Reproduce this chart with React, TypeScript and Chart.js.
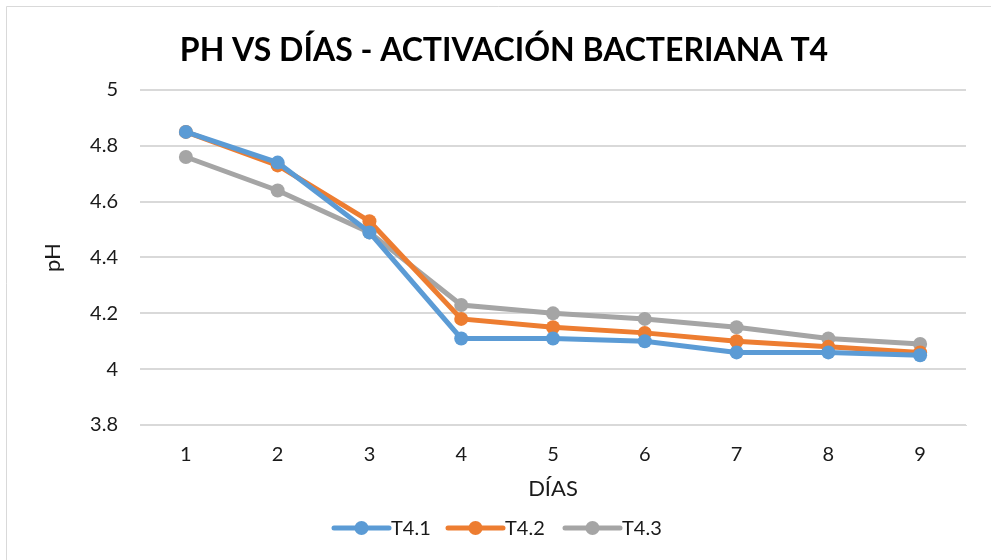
import React, { useEffect, useRef } from "react";
import { Chart, registerables } from "chart.js";

Chart.register(...registerables);

const days = ["1", "2", "3", "4", "5", "6", "7", "8", "9"];
const t41 = [4.85, 4.74, 4.49, 4.11, 4.11, 4.10, 4.06, 4.06, 4.05];
const t42 = [4.85, 4.73, 4.53, 4.18, 4.15, 4.13, 4.10, 4.08, 4.06];
const t43 = [4.76, 4.64, 4.49, 4.23, 4.20, 4.18, 4.15, 4.11, 4.09];
const seriesNames = ["T4.1", "T4.2", "T4.3"];
const seriesColors = ["#5B9BD5", "#ED7D31", "#A5A5A5"];
const titleText = "PH VS DÍAS - ACTIVACIÓN BACTERIANA T4";
const FONT = "Lato, 'Noto Sans', sans-serif";
const TEXT = "#1a1a1a";

const decor = {
  id: "decor",
  beforeDraw(chart: any) {
    const ctx = chart.ctx;
    ctx.save();
    ctx.fillStyle = "#ffffff";
    ctx.fillRect(0, 0, chart.width, chart.height);
    ctx.strokeStyle = "#d9d9d9";
    ctx.lineWidth = 1;
    ctx.beginPath();
    ctx.moveTo(6.5, chart.height);
    ctx.lineTo(6.5, 6.5);
    ctx.lineTo(chart.width, 6.5);
    ctx.stroke();
    ctx.restore();
  },
  afterDraw(chart: any) {
    const ctx = chart.ctx;
    ctx.save();
    // title
    ctx.fillStyle = "#000000";
    ctx.font = `bold 32px ${FONT}`;
    ctx.textAlign = "center";
    ctx.textBaseline = "alphabetic";
    ctx.fillText(titleText, 504, 61);
    // legend
    ctx.font = `20px ${FONT}`;
    ctx.textAlign = "left";
    ctx.textBaseline = "middle";
    const y = 528;
    const starts = [334, 448, 565];
    chart.data.datasets.forEach((ds: any, i: number) => {
      const x = starts[i];
      ctx.strokeStyle = ds.borderColor;
      ctx.lineWidth = 5;
      ctx.lineCap = "round";
      ctx.beginPath();
      ctx.moveTo(x, y);
      ctx.lineTo(x + 55, y);
      ctx.stroke();
      ctx.fillStyle = ds.borderColor;
      ctx.beginPath();
      ctx.arc(x + 27.5, y, 7, 0, Math.PI * 2);
      ctx.fill();
      ctx.fillStyle = TEXT;
      ctx.fillText(ds.label, x + 57, y + 1);
    });
    ctx.restore();
  },
};

export default function App() {
  const ref = useRef<HTMLCanvasElement | null>(null);
  useEffect(() => {
    if (!ref.current) return;
    const mk = (label: string, data: number[], color: string) => ({
      label,
      data,
      borderColor: color,
      backgroundColor: color,
      borderWidth: 5,
      pointRadius: 7,
      pointHoverRadius: 7,
      pointBackgroundColor: color,
      pointBorderColor: color,
      pointBorderWidth: 0,
      tension: 0,
    });
    const chart = new Chart(ref.current, {
      type: "line",
      data: {
        labels: days,
        datasets: [
          mk(seriesNames[0], t41, seriesColors[0]),
          mk(seriesNames[1], t42, seriesColors[1]),
          mk(seriesNames[2], t43, seriesColors[2]),
        ],
      },
      plugins: [decor],
      options: {
        animation: false,
        responsive: false,
        devicePixelRatio: 1,
        layout: { padding: { top: 90, left: 20, right: 25, bottom: 50 } },
        plugins: {
          legend: { display: false },
          title: { display: false },
          tooltip: { enabled: false },
        },
        scales: {
          x: {
            type: "category",
            offset: true,
            grid: { display: false, drawTicks: false },
            border: { display: true, color: "#d9d9d9", width: 1 },
            ticks: { color: TEXT, font: { family: FONT, size: 20 }, padding: 18 },
            title: {
              display: true,
              text: "DÍAS",
              color: TEXT,
              font: { family: FONT, size: 22 },
              padding: { top: 4, bottom: 8 },
            },
            afterFit(scale: any) {
              scale.height = 85;
            },
          },
          y: {
            min: 3.8,
            max: 5,
            ticks: {
              stepSize: 0.2,
              color: TEXT,
              font: { family: FONT, size: 20 },
              padding: 22,
              callback: (v: any) => String(Math.round(Number(v) * 10) / 10),
            },
            grid: { color: "#d9d9d9", lineWidth: 2, drawTicks: false },
            border: { display: false },
            title: {
              display: true,
              text: "pH",
              color: TEXT,
              font: { family: FONT, size: 22 },
              padding: { top: 20, bottom: 0 },
            },
            afterFit(scale: any) {
              scale.width = 120;
            },
          },
        },
      },
    });
    return () => chart.destroy();
  }, []);
  return (
    <div style={{ position: "fixed", left: 0, top: 0, width: 991, height: 560, background: "#fff" }}>
      <canvas ref={ref} width={991} height={560} style={{ width: 991, height: 560, display: "block" }} />
    </div>
  );
}
